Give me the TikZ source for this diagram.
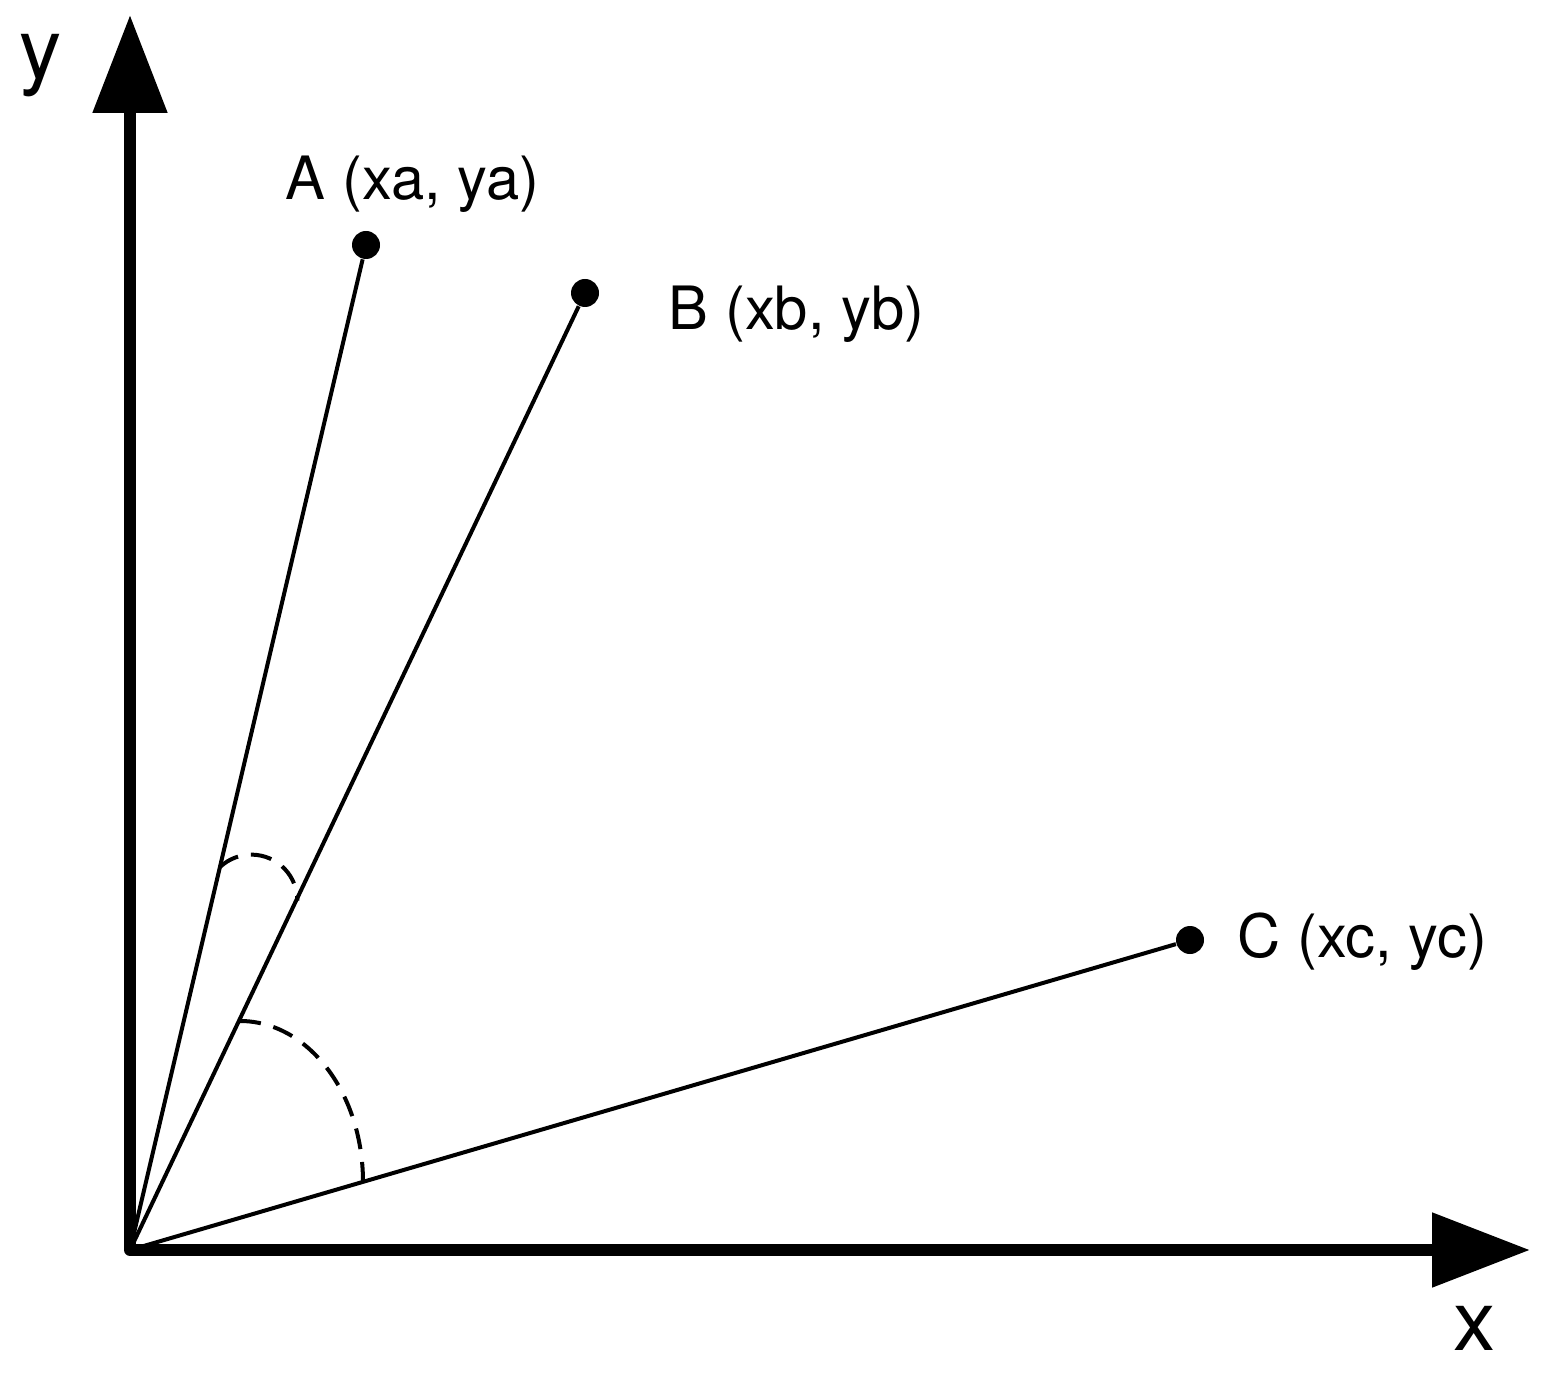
\documentclass[tikz,border=0pt]{standalone}
\usepackage{fontspec}
\setmainfont{TeX Gyre Heros}
\usetikzlibrary{arrows.meta}
\begin{document}
\begin{tikzpicture}[
  axis/.style={line width=1.2mm, line join=round, line cap=round,
    {Triangle[length=9.8mm, width=7.2mm]}-{Triangle[length=9.8mm, width=7.2mm]}},
  pt/.style={circle, fill, inner sep=0pt, minimum size=2.8mm},
  ray/.style={line width=0.4mm},
  angmark/.style={line width=0.4mm, dash pattern=on 2.1mm off 1.3mm},
  lbl/.style={font=\fontsize{17}{20}\selectfont, anchor=base west, inner sep=0pt},
  axlbl/.style={font=\fontsize{24}{28}\selectfont, anchor=base, inner sep=0pt}]
 \useasboundingbox (0, 0) rectangle (15.56, 13.82);
 \coordinate (O) at (1.30, 1.32);
 \coordinate (ytip) at (1.30, 13.67);
 \coordinate (xtip) at (15.30, 1.32);
 \draw [axis] (ytip) -- (O) -- (xtip);
 \node [axlbl] (ylbl) at (0.41, 13.03) {y};
 \node [axlbl] (xlbl) at (14.75, 0.32) {x};
 \node [pt] (A) at (3.66, 11.37) {};
 \node [pt] (B) at (5.85, 10.89) {};
 \node [pt] (C) at (11.90, 4.42) {};
 \draw [ray] (O) -- (A);
 \draw [ray] (O) -- (B);
 \draw [ray] (O) -- (C);
 \node [lbl] (Albl) at (2.85, 11.82) {A (xa, ya)};
 \node [lbl] (Blbl) at (6.68, 10.52) {B (xb, yb)};
 \node [lbl] (Clbl) at (12.37, 4.25) {C (xc, yc)};
 % angles between the rays
 \draw [angmark] (2.20, 5.15) arc [start angle=133, end angle=0, radius=0.46];
 \draw [angmark] (2.40, 3.61) arc [start angle=90, end angle=0, x radius=1.23, y radius=1.61];
\end{tikzpicture}
\end{document}
